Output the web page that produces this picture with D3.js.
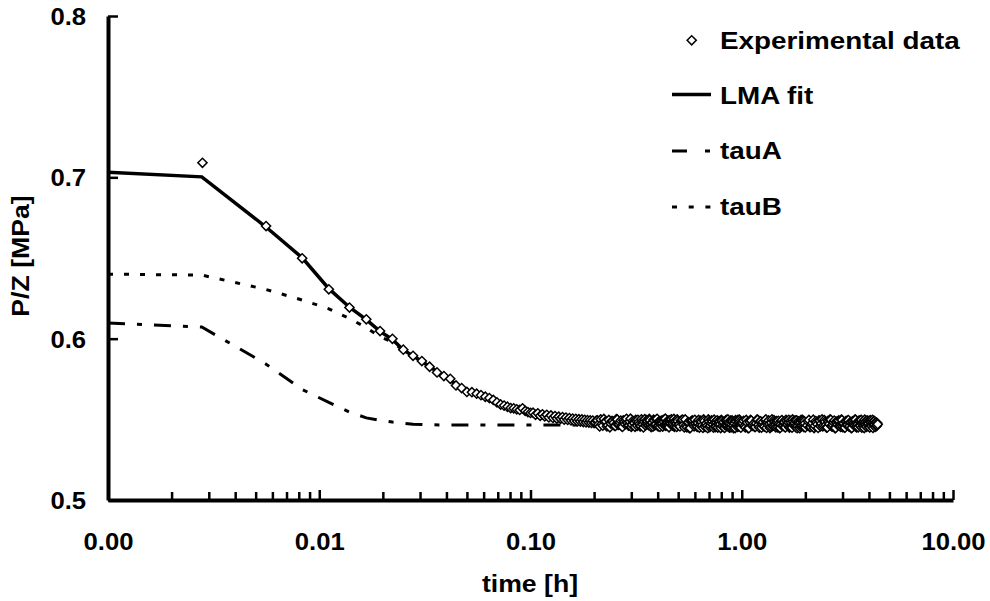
<!DOCTYPE html>
<meta charset="utf-8">
<style>
  body{ margin:0; background:#fff; }
  text{
    font-family: "Liberation Sans", Arial, Helvetica, sans-serif;
    font-weight: bold;
    font-size: 24px;
    fill: #000;
  }
  .fit{ fill:none; stroke:#000; }
  .pt{ fill:#fff; stroke:#000; stroke-width:1.5px; }
</style>
<body>
<div id="chart"></div>
<script src="https://cdnjs.cloudflare.com/ajax/libs/d3/7.8.5/d3.min.js"></script>
<script>

// experimental P/Z readings, one every 10 s at the start
var dataTime = [0.0028, 0.0056, 0.0083, 0.0111, 0.0139, 0.0167, 0.0194, 0.0222, 0.025, 0.0278,
  0.0306, 0.0333, 0.0361, 0.0389, 0.0417, 0.0444, 0.0472, 0.05, 0.0528, 0.0556,
  0.0583, 0.0611, 0.0639, 0.0667, 0.0694, 0.0722, 0.075, 0.0778, 0.0806, 0.0833,
  0.0861, 0.0889, 0.0917, 0.0944, 0.0972, 0.1];
var dataPZ = [0.709, 0.6698, 0.6498, 0.6306, 0.6193, 0.612, 0.6047, 0.5999, 0.5932, 0.5894,
  0.5861, 0.5826, 0.5791, 0.5768, 0.5751, 0.571, 0.5694, 0.567, 0.5668, 0.5659,
  0.565, 0.564, 0.5632, 0.562, 0.5605, 0.5592, 0.5585, 0.5578, 0.557, 0.5568,
  0.5562, 0.5558, 0.5568, 0.5552, 0.5545, 0.554];

// the long flat tail
var tailTime = [0.1028, 0.1056, 0.1083, 0.1111, 0.1139, 0.1167, 0.1194, 0.1222, 0.125, 0.1278,
  0.1306, 0.1333, 0.1361, 0.1389, 0.1417, 0.1444, 0.1472, 0.15, 0.1528, 0.1556,
  0.1583, 0.1611, 0.1639, 0.1667, 0.1694, 0.1722, 0.175, 0.1778, 0.1806, 0.1833,
  0.1861, 0.1889, 0.1917, 0.1944, 0.1972, 0.2,
  0.205, 0.21, 0.215, 0.22, 0.225, 0.23, 0.235, 0.24, 0.245, 0.25,
  0.255, 0.26, 0.265, 0.27, 0.275, 0.28, 0.285, 0.29, 0.295, 0.3,
  0.305, 0.31, 0.315, 0.32, 0.325, 0.33, 0.335, 0.34, 0.345, 0.35,
  0.355, 0.36, 0.365, 0.37, 0.375, 0.38, 0.385, 0.39, 0.395, 0.4,
  0.405, 0.41, 0.415, 0.42, 0.425, 0.43, 0.435, 0.44, 0.445, 0.45,
  0.455, 0.46, 0.465, 0.47, 0.475, 0.48, 0.485, 0.49, 0.495, 0.5,
  0.51, 0.52, 0.53, 0.54, 0.55, 0.56, 0.57, 0.58, 0.59, 0.6,
  0.61, 0.62, 0.63, 0.64, 0.65, 0.66, 0.67, 0.68, 0.69, 0.7,
  0.71, 0.72, 0.73, 0.74, 0.75, 0.76, 0.77, 0.78, 0.79, 0.8,
  0.81, 0.82, 0.83, 0.84, 0.85, 0.86, 0.87, 0.88, 0.89, 0.9,
  0.91, 0.92, 0.93, 0.94, 0.95, 0.96, 0.97, 0.98, 0.99, 1.0,
  1.02, 1.04, 1.06, 1.08, 1.1, 1.12, 1.14, 1.16, 1.18, 1.2,
  1.22, 1.24, 1.26, 1.28, 1.3, 1.32, 1.34, 1.36, 1.38, 1.4,
  1.42, 1.44, 1.46, 1.48, 1.5, 1.52, 1.54, 1.56, 1.58, 1.6,
  1.62, 1.64, 1.66, 1.68, 1.7, 1.72, 1.74, 1.76, 1.78, 1.8,
  1.82, 1.84, 1.86, 1.88, 1.9, 1.92, 1.94, 1.96, 1.98, 2.0,
  2.04, 2.08, 2.12, 2.16, 2.2, 2.24, 2.28, 2.32, 2.36, 2.4,
  2.44, 2.48, 2.52, 2.56, 2.6, 2.64, 2.68, 2.72, 2.76, 2.8,
  2.84, 2.88, 2.92, 2.96, 3.0, 3.04, 3.08, 3.12, 3.16, 3.2,
  3.24, 3.28, 3.32, 3.36, 3.4, 3.44, 3.48, 3.52, 3.56, 3.6,
  3.64, 3.68, 3.72, 3.76, 3.8, 3.84, 3.88, 3.92, 3.96, 4.0,
  4.04, 4.08, 4.12, 4.16, 4.2, 4.24, 4.28, 4.32, 4.36, 4.4];
var tailPZ = [0.5541, 0.5528, 0.5537, 0.5522, 0.5531, 0.5519, 0.5528, 0.5512, 0.5524, 0.5509,
  0.552, 0.5505, 0.5516, 0.5503, 0.5514, 0.5498, 0.5511, 0.5496, 0.5508, 0.5493,
  0.5505, 0.549, 0.5503, 0.5488, 0.5501, 0.5486, 0.5499, 0.5483, 0.5497, 0.5481,
  0.5495, 0.548, 0.5494, 0.5478, 0.5492, 0.5477,
  0.5492, 0.5469, 0.5499, 0.5461, 0.5484, 0.5456, 0.5496, 0.5474, 0.5489, 0.5459,
  0.5501, 0.5466, 0.5481, 0.5458, 0.5494, 0.5471, 0.5503, 0.5463, 0.5486, 0.5454,
  0.5491, 0.5476, 0.5497, 0.546, 0.5483, 0.5457, 0.55, 0.5468, 0.5487, 0.5462,
  0.5495, 0.5472, 0.5502, 0.5465, 0.5479, 0.5455, 0.5493, 0.547, 0.5498, 0.5459,
  0.5485, 0.5453, 0.549, 0.5475, 0.5496, 0.5464, 0.5504, 0.5467, 0.5482, 0.5458,
  0.5494, 0.5473, 0.55, 0.5461, 0.5488, 0.5454, 0.5491, 0.5469, 0.5499, 0.5463,
  0.5456, 0.5495, 0.5465, 0.5499, 0.5451, 0.5482, 0.5446, 0.549, 0.5469, 0.5497,
  0.5459, 0.5478, 0.5448, 0.5492, 0.5463, 0.5499, 0.5454, 0.5474, 0.5445, 0.5487,
  0.5461, 0.5494, 0.5467, 0.5498, 0.5452, 0.548, 0.5449, 0.5489, 0.5471, 0.5496,
  0.5457, 0.5484, 0.5447, 0.5491, 0.5464, 0.5499, 0.5453, 0.5476, 0.545, 0.5493,
  0.546, 0.5481, 0.5446, 0.5488, 0.5466, 0.5497, 0.5455, 0.5485, 0.5448, 0.5483,
  0.5491, 0.545, 0.548, 0.5445, 0.5496, 0.546, 0.5475, 0.5453, 0.5498, 0.5466,
  0.5487, 0.5448, 0.5483, 0.5455, 0.5499, 0.547, 0.5493, 0.5446, 0.5479, 0.5458,
  0.5495, 0.5463, 0.5489, 0.5451, 0.5473, 0.5447, 0.5492, 0.5461, 0.5485, 0.5454,
  0.5497, 0.5468, 0.5482, 0.5449, 0.549, 0.5457, 0.5499, 0.5465, 0.5477, 0.5452,
  0.5494, 0.5459, 0.5486, 0.5445, 0.5481, 0.5456, 0.5496, 0.5469, 0.5488, 0.545,
  0.5462, 0.5496, 0.5453, 0.5478, 0.5446, 0.5489, 0.5469, 0.5494, 0.5457, 0.5499,
  0.5464, 0.5485, 0.5449, 0.5491, 0.5471, 0.5497, 0.5455, 0.5481, 0.5445, 0.5486,
  0.5466, 0.5493, 0.546, 0.5498, 0.5452, 0.5476, 0.5448, 0.549, 0.5463, 0.5495,
  0.5458, 0.5483, 0.5447, 0.5488, 0.5467, 0.5499, 0.5454, 0.5479, 0.5451, 0.5492,
  0.5461, 0.5496, 0.547, 0.5487, 0.5446, 0.5484, 0.5456, 0.5494, 0.5465, 0.5491,
  0.545, 0.5482, 0.5459, 0.5497, 0.5468, 0.5489, 0.5453, 0.548, 0.5462, 0.5469];

// readings that fall between the ones above
var tailTime2 = [0.2025, 0.2075, 0.2125, 0.2175, 0.2225, 0.2275, 0.2325, 0.2375, 0.2425, 0.2475,
  0.2525, 0.2575, 0.2625, 0.2675, 0.2725, 0.2775, 0.2825, 0.2875, 0.2925, 0.2975,
  0.3025, 0.3075, 0.3125, 0.3175, 0.3225, 0.3275, 0.3325, 0.3375, 0.3425, 0.3475,
  0.3525, 0.3575, 0.3625, 0.3675, 0.3725, 0.3775, 0.3825, 0.3875, 0.3925, 0.3975,
  0.4025, 0.4075, 0.4125, 0.4175, 0.4225, 0.4275, 0.4325, 0.4375, 0.4425, 0.4475,
  0.4525, 0.4575, 0.4625, 0.4675, 0.4725, 0.4775, 0.4825, 0.4875, 0.4925, 0.4975,
  0.505, 0.515, 0.525, 0.535, 0.545, 0.555, 0.565, 0.575, 0.585, 0.595,
  0.605, 0.615, 0.625, 0.635, 0.645, 0.655, 0.665, 0.675, 0.685, 0.695,
  0.705, 0.715, 0.725, 0.735, 0.745, 0.755, 0.765, 0.775, 0.785, 0.795,
  0.805, 0.815, 0.825, 0.835, 0.845, 0.855, 0.865, 0.875, 0.885, 0.895,
  0.905, 0.915, 0.925, 0.935, 0.945, 0.955, 0.965, 0.975, 0.985, 0.995,
  1.01, 1.03, 1.05, 1.07, 1.09, 1.11, 1.13, 1.15, 1.17, 1.19,
  1.21, 1.23, 1.25, 1.27, 1.29, 1.31, 1.33, 1.35, 1.37, 1.39,
  1.41, 1.43, 1.45, 1.47, 1.49, 1.51, 1.53, 1.55, 1.57, 1.59,
  1.61, 1.63, 1.65, 1.67, 1.69, 1.71, 1.73, 1.75, 1.77, 1.79,
  1.81, 1.83, 1.85, 1.87, 1.89, 1.91, 1.93, 1.95, 1.97, 1.99,
  2.06, 2.1, 2.14, 2.18, 2.22, 2.26, 2.3, 2.34, 2.38, 2.42,
  2.46, 2.5, 2.54, 2.58, 2.62, 2.66, 2.7, 2.74, 2.78, 2.82,
  2.86, 2.9, 2.94, 2.98, 3.02, 3.06, 3.1, 3.14, 3.18, 3.22,
  3.26, 3.3, 3.34, 3.38, 3.42, 3.46, 3.5, 3.54, 3.58, 3.62,
  3.66, 3.7, 3.74, 3.78, 3.82, 3.86, 3.9, 3.94, 3.98, 4.02,
  4.06, 4.1, 4.14, 4.18, 4.22, 4.26, 4.3, 4.34, 4.38];
var tailPZ2 = [0.548, 0.5494, 0.5456, 0.5471, 0.5502, 0.5486, 0.5463, 0.5451, 0.5489, 0.5478,
  0.5459, 0.5499, 0.5468, 0.5492, 0.5453, 0.5483, 0.5496, 0.5475, 0.5461, 0.5504,
  0.5466, 0.5481, 0.5454, 0.549, 0.5497, 0.547, 0.5458, 0.5487, 0.545, 0.5501,
  0.5473, 0.5485, 0.5464, 0.5495, 0.5452, 0.5479, 0.5498, 0.5462, 0.5469, 0.5503,
  0.5457, 0.5488, 0.5474, 0.5491, 0.5455, 0.5484, 0.55, 0.546, 0.5476, 0.5493,
  0.5451, 0.5482, 0.5496, 0.5465, 0.5472, 0.5502, 0.5459, 0.5486, 0.5453, 0.5489,
  0.5468, 0.5491, 0.5498, 0.545, 0.5462, 0.5479, 0.5445, 0.5486, 0.5493, 0.5457,
  0.5474, 0.5453, 0.5496, 0.5465, 0.5483, 0.5447, 0.5489, 0.5471, 0.5459, 0.5499,
  0.5452, 0.5477, 0.5487, 0.5448, 0.5481, 0.5455, 0.5494, 0.5469, 0.5485, 0.5446,
  0.549, 0.5476, 0.5451, 0.5463, 0.5497, 0.5458, 0.548, 0.5449, 0.5492, 0.5466,
  0.5488, 0.5445, 0.5473, 0.5495, 0.546, 0.5454, 0.5482, 0.5498, 0.5456, 0.5475,
  0.5478, 0.5457, 0.5496, 0.5445, 0.5484, 0.5492, 0.5464, 0.5453, 0.5475, 0.5498,
  0.5449, 0.5488, 0.5468, 0.546, 0.5494, 0.5447, 0.5481, 0.5473, 0.5455, 0.5499,
  0.5462, 0.5486, 0.5451, 0.5477, 0.5491, 0.5446, 0.547, 0.5495, 0.5458, 0.5483,
  0.545, 0.5489, 0.5466, 0.5497, 0.5454, 0.548, 0.5448, 0.5485, 0.5471, 0.5493,
  0.5461, 0.5445, 0.5487, 0.5476, 0.5456, 0.5496, 0.5463, 0.549, 0.5452, 0.5474,
  0.5487, 0.5452, 0.5469, 0.5498, 0.546, 0.548, 0.5447, 0.5491, 0.5474, 0.5456,
  0.5495, 0.5464, 0.545, 0.5483, 0.5499, 0.5458, 0.5467, 0.5492, 0.5446, 0.5478,
  0.5489, 0.5461, 0.5453, 0.5496, 0.5473, 0.5449, 0.5485, 0.5465, 0.5493, 0.5455,
  0.5481, 0.5445, 0.5488, 0.5476, 0.5459, 0.5497, 0.5451, 0.547, 0.549, 0.5463,
  0.5494, 0.5448, 0.5479, 0.5457, 0.5498, 0.5466, 0.5454, 0.5484, 0.5475, 0.5452,
  0.5495, 0.5462, 0.5486, 0.5447, 0.5491, 0.5468, 0.5482, 0.5458, 0.5477];

// fitted curves
var fitTime = [0.001, 0.00278, 0.00556, 0.00833, 0.0111, 0.0139, 0.0167, 0.0194, 0.0222, 0.025,
  0.0278, 0.0306, 0.0333, 0.0389, 0.0444, 0.05, 0.0556, 0.0611, 0.0667, 0.0722,
  0.0833, 0.0944, 0.1056, 0.125, 0.15, 0.2, 0.3, 0.5, 1, 2, 4.4];
var lmaFit = [0.7032, 0.7003, 0.6695, 0.65, 0.631, 0.6195, 0.6118, 0.6045, 0.5995, 0.593,
  0.5893, 0.586, 0.5826, 0.577, 0.5718, 0.5678, 0.5652, 0.5629, 0.5608, 0.5591,
  0.5566, 0.5546, 0.5531, 0.5511, 0.5496, 0.5481, 0.5471, 0.5467, 0.5466, 0.5465, 0.5465];
var tauA = [0.6097, 0.6072, 0.5845, 0.5684, 0.5605, 0.5545, 0.5509, 0.5494, 0.5483, 0.5476,
  0.547, 0.5468, 0.5466, 0.5465, 0.5465, 0.5465, 0.5465, 0.5465, 0.5465, 0.5465,
  0.5465, 0.5465, 0.5465, 0.5465, 0.5465, 0.5465, 0.5465, 0.5465, 0.5465, 0.5465, 0.5465];
var tauB = [0.64, 0.6394, 0.6306, 0.6239, 0.6185, 0.6125, 0.6069, 0.6011, 0.598, 0.5925,
  0.5889, 0.5859, 0.5824, 0.5767, 0.5715, 0.5676, 0.565, 0.5628, 0.5607, 0.559,
  0.5565, 0.5545, 0.553, 0.551, 0.5495, 0.548, 0.547, 0.5466, 0.5465, 0.5465, 0.5465];

var xTicks = [0.001, 0.01, 0.1, 1, 10];
var yTicks = [0.5, 0.6, 0.7, 0.8];
var legendNames = ['Experimental data', 'LMA fit', 'tauA', 'tauB'];

var W = 990, H = 601;
var numStretch = 'scale(1.07,1)', titleStretch = 'scale(1.11,1)', legStretch = 'scale(1.16,1)';

var svg = d3.select('#chart').append('svg').attr('width', W).attr('height', H);

var x = d3.scaleLog().domain([0.001, 10]).range([108, 953]);
var y = d3.scaleLinear().domain([0.5, 0.8]).range([500, 16]);

// minor log ticks
var minor = [];
[0.001, 0.01, 0.1, 1].forEach(function(d){
  for(var i = 2; i < 10; i++) minor.push(d * i);
});

function styleAxis(g){
  g.attr('font-size', null).attr('font-family', null);
  g.select('.domain').attr('stroke', '#000').attr('stroke-width', 4);
  g.selectAll('.tick line').attr('stroke', '#000').attr('stroke-width', 2.5);
}

svg.append('g').attr('transform', 'translate(0,500)')
  .call(d3.axisBottom(x).tickValues(minor).tickSizeInner(-8).tickSizeOuter(0).tickFormat(''))
  .call(styleAxis)
  .call(function(g){ g.select('.domain').remove(); });

var xAxis = svg.append('g').attr('transform', 'translate(0,500)')
  .call(d3.axisBottom(x).tickValues(xTicks).tickSizeInner(-10).tickSizeOuter(0)
    .tickFormat(d3.format('.2f')))
  .call(styleAxis);
xAxis.selectAll('text').attr('y', 50).attr('dy', 0).attr('transform', numStretch);

var yAxis = svg.append('g').attr('transform', 'translate(108,0)')
  .call(d3.axisLeft(y).tickValues(yTicks).tickSizeInner(-10).tickSizeOuter(0)
    .tickFormat(d3.format('.1f')))
  .call(styleAxis);
yAxis.selectAll('text').attr('x', -20.5).attr('dy', '0.36em').attr('transform', numStretch);

svg.append('text').attr('transform', 'translate(530,592) ' + titleStretch)
  .attr('text-anchor', 'middle').text('time [h]');
svg.append('text').attr('transform', 'translate(29,256) rotate(-90) ' + titleStretch)
  .attr('text-anchor', 'middle').text('P/Z [MPa]');

// curves
var line = d3.line().x(function(d){ return x(d[0]); }).y(function(d){ return y(d[1]); });

var series = [
  {vals: tauB, w: 3, dash: '5,11'},
  {vals: tauA, w: 3, dash: '17,12,5,12'},
  {vals: lmaFit, w: 3.5, dash: null}
];
series.forEach(function(s){
  svg.append('path').attr('class', 'fit')
    .attr('d', line(d3.zip(fitTime, s.vals)))
    .attr('stroke-width', s.w)
    .attr('stroke-dasharray', s.dash);
});

// experimental points on top, in time order
var diamond = d3.symbol().type(d3.symbolSquare).size(42);
var pts = d3.zip(dataTime.concat(tailTime, tailTime2), dataPZ.concat(tailPZ, tailPZ2))
  .sort(function(a, b){ return a[0] - b[0]; });
svg.append('g').selectAll('path').data(pts).join('path')
  .attr('class', 'pt')
  .attr('d', diamond)
  .attr('transform', function(d){ return 'translate(' + x(d[0]) + ',' + y(d[1]) + ') rotate(45)'; });

// legend
var lg = svg.append('g');
var rowY = [49.3, 104, 159.3, 215];
lg.append('path').attr('class', 'pt').attr('d', diamond)
  .attr('transform', 'translate(691.7,40.3) rotate(45)');
lg.append('line').attr('x1', 672).attr('x2', 711).attr('y1', 94.5).attr('y2', 94.5)
  .attr('stroke', '#000').attr('stroke-width', 3.5);
lg.append('line').attr('x1', 672).attr('x2', 711).attr('y1', 151).attr('y2', 151)
  .attr('stroke', '#000').attr('stroke-width', 3).attr('stroke-dasharray', '15,18,5,12');
lg.append('line').attr('x1', 672).attr('x2', 711).attr('y1', 207).attr('y2', 207)
  .attr('stroke', '#000').attr('stroke-width', 3).attr('stroke-dasharray', '5,11.7');
lg.selectAll('text').data(legendNames).join('text')
  .attr('transform', function(d, i){ return 'translate(720,' + rowY[i] + ') ' + legStretch; })
  .text(function(d){ return d; });

</script>
</body>
</html>
